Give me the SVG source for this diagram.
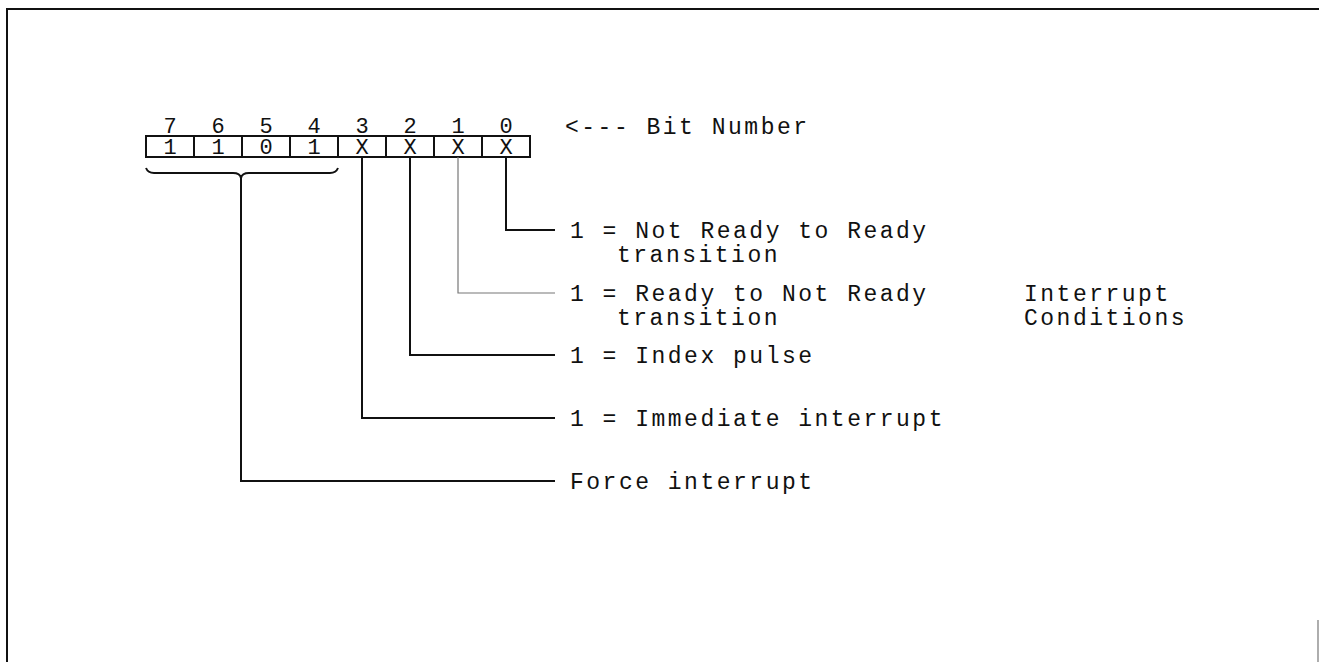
<svg xmlns="http://www.w3.org/2000/svg" width="1319" height="662" viewBox="0 0 1319 662">
<style>
text{font-family:"Liberation Mono","DejaVu Sans Mono",monospace;font-size:23px;letter-spacing:2.5px;fill:#111}
.c{text-anchor:middle;font-size:22px;letter-spacing:0}
.ln{stroke:#111;stroke-width:2;fill:none}
.lg{stroke:#777;stroke-width:1.2;fill:none}
</style>
<rect width="1319" height="662" fill="#fff"/>
<g id="frame">
<path class="ln" d="M7,662 V9 H1319"/>
<path class="lg" d="M1318,620 V662"/>
</g>
<g id="bitnumbers">
<text class="c" x="170" y="133">7</text>
<text class="c" x="218" y="133">6</text>
<text class="c" x="266" y="133">5</text>
<text class="c" x="314" y="133">4</text>
<text class="c" x="362" y="133">3</text>
<text class="c" x="410" y="133">2</text>
<text class="c" x="458" y="133">1</text>
<text class="c" x="506" y="133">0</text>
<text x="565" y="134">&lt;--- Bit Number</text>
</g>
<g id="register">
<rect class="ln" x="146" y="136" width="384" height="21"/>
<path class="ln" d="M194,136V157M242,136V157M290,136V157M338,136V157M386,136V157M434,136V157M482,136V157"/>
<text class="c" x="170" y="154">1</text>
<text class="c" x="218" y="154">1</text>
<text class="c" x="266" y="154">0</text>
<text class="c" x="314" y="154">1</text>
<text class="c" x="362" y="154">X</text>
<text class="c" x="410" y="154">X</text>
<text class="c" x="458" y="154">X</text>
<text class="c" x="506" y="154">X</text>
</g>
<g id="connectors">
<path class="ln" d="M146,168 Q148,173 154,173 H233 Q240,173 241,178 Q242,173 249,173 H330 Q336,173 338,168"/>
<path class="ln" d="M241,178 V481 H555"/>
<path class="ln" d="M362,157 V418 H555"/>
<path class="ln" d="M410,157 V355 H555"/>
<path class="lg" d="M458,157 V293 H555"/>
<path class="ln" d="M506,157 V230 H555"/>
</g>
<g id="bit0"><text x="570" y="238">1 = Not Ready to Ready</text><text x="617" y="262">transition</text></g>
<g id="bit1"><text x="570" y="301">1 = Ready to Not Ready</text><text x="617" y="325">transition</text></g>
<g id="conditions"><text x="1024" y="301">Interrupt</text><text x="1024" y="325">Conditions</text></g>
<g id="bit2"><text x="570" y="363">1 = Index pulse</text></g>
<g id="bit3"><text x="570" y="426">1 = Immediate interrupt</text></g>
<g id="force"><text x="570" y="489">Force interrupt</text></g>
</svg>
